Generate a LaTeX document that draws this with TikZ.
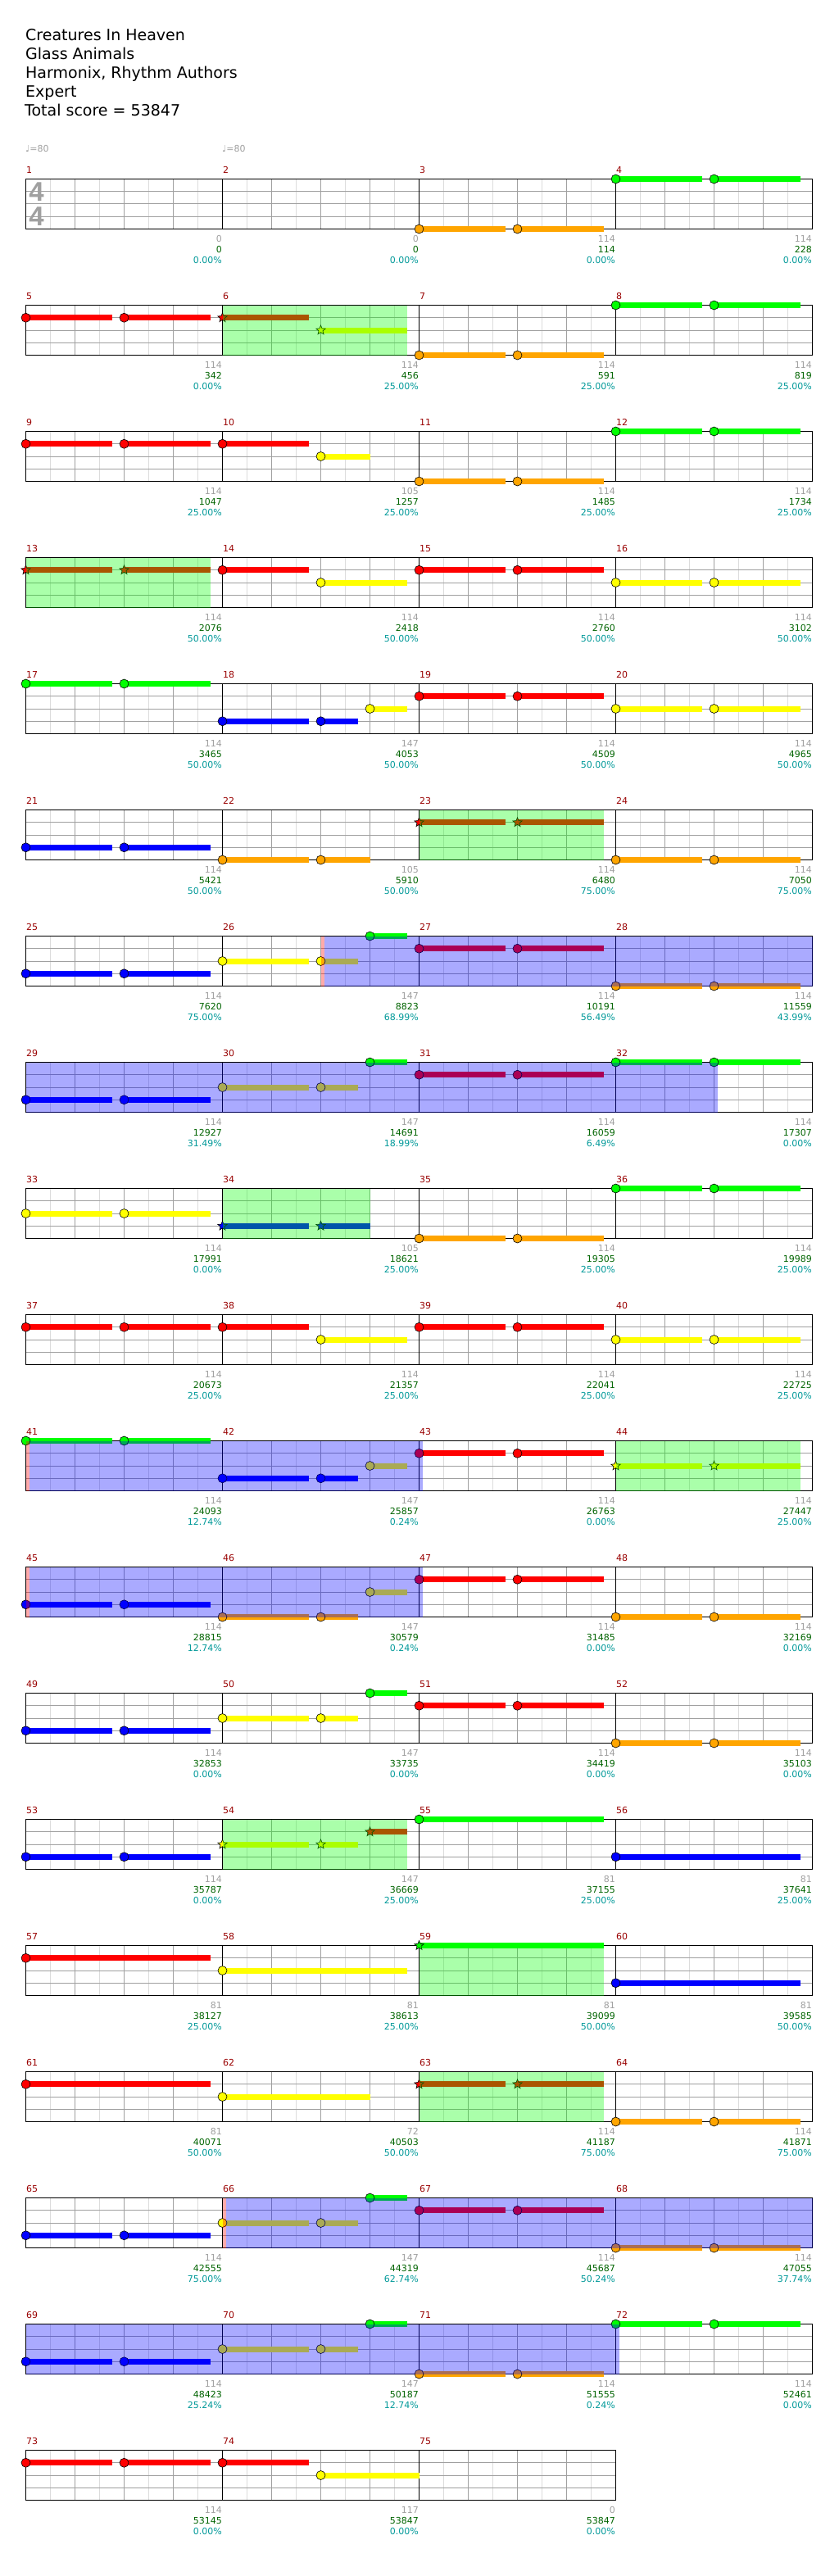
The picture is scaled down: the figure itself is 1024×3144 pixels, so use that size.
\documentclass[tikz,border=0pt]{standalone}
\usepackage{fontspec}
\setmainfont{DejaVu Sans}
\newfontfamily\sigfont{Liberation Sans}
\usetikzlibrary{shapes.geometric}

% lane colours (green, red, yellow, blue, orange)
\definecolor{lane0}{HTML}{00FF00}
\definecolor{lane1}{HTML}{FF0000}
\definecolor{lane2}{HTML}{FFFF00}
\definecolor{lane3}{HTML}{0000FF}
\definecolor{lane4}{HTML}{FFA500}
\definecolor{gridlight}{HTML}{DCDCDC}
\definecolor{gridmid}{HTML}{A0A0A0}
\definecolor{barnum}{HTML}{990000}
\definecolor{runscore}{HTML}{006400}
\definecolor{sppct}{HTML}{009999}

\begin{document}
\begin{tikzpicture}[x=1pt, y=-1pt,
    title/.style={anchor=base west, inner sep=0pt, font=\fontsize{19}{23}\selectfont},
    tempo/.style={anchor=base west, inner sep=0pt, text=gridmid, font=\fontsize{11}{11}\selectfont},
    barlabel/.style={anchor=west, inner sep=0pt, text=barnum, font=\fontsize{11}{11}\selectfont},
    scorelabel/.style={anchor=east, inner sep=0pt, font=\fontsize{11}{11}\selectfont},
    gem/.style={circle, draw=black, line width=0.6pt, minimum size=11pt, inner sep=0pt},
    spgem/.style={star, star points=5, star point ratio=2.3, draw=black, line width=0.6pt, minimum size=12pt, inner sep=0pt}]

\useasboundingbox (0,0) rectangle (1024,3144);
\fill[white] (0,0) rectangle (1024,3144);

% Parameters (pixels, lines on pixel centres)
\def\bx{31.5}   % left edge of staves
\def\by{218.5}  % top of first staff
\def\mw{240}    % measure width
\def\rh{154}    % row pitch
\def\ls{15.25}  % lane spacing

% Header
\node[title] (song) at (31,50) {Creatures In Heaven};
\node[title] (artist) at (31,73) {Glass Animals};
\node[title] (charter) at (31,96) {Harmonix, Rhythm Authors};
\node[title] (difficulty) at (31,119) {Expert};
\node[title] (total) at (30,142) {Total score = 53847};

% Tempo marks
\node[tempo] (tempo1) at (31,186) {♩=80};
\node[tempo] (tempo2) at (271,186) {♩=80};

% Staves
\foreach \m in {1,...,75}
{
    \pgfmathsetmacro\xa{\bx+\mw*mod(\m-1,4)}
    \pgfmathsetmacro\ya{\by+\rh*floor((\m-1)/4)}
    \foreach \j in {1,3,5,7}
        \draw[gridlight, line width=1pt] (\xa+30*\j,\ya) -- (\xa+30*\j,\ya+4*\ls);
    \foreach \j in {1,2,3}
        \draw[gridmid, line width=1pt] (\xa,\ya+\ls*\j) -- (\xa+\mw,\ya+\ls*\j);
    \foreach \j in {1,2,3}
        \draw[gridmid, line width=1pt] (\xa+60*\j,\ya) -- (\xa+60*\j,\ya+4*\ls);
    \draw[black, line width=1pt] (\xa,\ya) rectangle (\xa+\mw,\ya+4*\ls);
    \node[barlabel] (bar\m) at (\xa+0.5,\ya-11) {\m};
}

% Time signature
\node[inner sep=0pt, text=gridmid, font=\sigfont\bfseries\fontsize{33}{33}\selectfont] (sigtop) at (44.5,234) {4};
\node[inner sep=0pt, text=gridmid, font=\sigfont\bfseries\fontsize{33}{33}\selectfont] (sigbot) at (44.5,264) {4};

% Notes: measure/lane/start/end/kind (n = note, s = star)
\foreach \m/\l/\s/\e/\k in {
    3/4/0/1.75/n, 3/4/2/3.75/n, 4/0/0/1.75/n, 4/0/2/3.75/n,
    5/1/0/1.75/n, 5/1/2/3.75/n, 6/1/0/1.75/s, 6/2/2/3.75/s,
    7/4/0/1.75/n, 7/4/2/3.75/n, 8/0/0/1.75/n, 8/0/2/3.75/n,
    9/1/0/1.75/n, 9/1/2/3.75/n, 10/1/0/1.75/n, 10/2/2/3/n,
    11/4/0/1.75/n, 11/4/2/3.75/n, 12/0/0/1.75/n, 12/0/2/3.75/n,
    13/1/0/1.75/s, 13/1/2/3.75/s, 14/1/0/1.75/n, 14/2/2/3.75/n,
    15/1/0/1.75/n, 15/1/2/3.75/n, 16/2/0/1.75/n, 16/2/2/3.75/n,
    17/0/0/1.75/n, 17/0/2/3.75/n, 18/3/0/1.75/n, 18/3/2/2.75/n, 18/2/3/3.75/n,
    19/1/0/1.75/n, 19/1/2/3.75/n, 20/2/0/1.75/n, 20/2/2/3.75/n,
    21/3/0/1.75/n, 21/3/2/3.75/n, 22/4/0/1.75/n, 22/4/2/3/n,
    23/1/0/1.75/s, 23/1/2/3.75/s, 24/4/0/1.75/n, 24/4/2/3.75/n,
    25/3/0/1.75/n, 25/3/2/3.75/n, 26/2/0/1.75/n, 26/2/2/2.75/n, 26/0/3/3.75/n,
    27/1/0/1.75/n, 27/1/2/3.75/n, 28/4/0/1.75/n, 28/4/2/3.75/n,
    29/3/0/1.75/n, 29/3/2/3.75/n, 30/2/0/1.75/n, 30/2/2/2.75/n, 30/0/3/3.75/n,
    31/1/0/1.75/n, 31/1/2/3.75/n, 32/0/0/1.75/n, 32/0/2/3.75/n,
    33/2/0/1.75/n, 33/2/2/3.75/n, 34/3/0/1.75/s, 34/3/2/3/s,
    35/4/0/1.75/n, 35/4/2/3.75/n, 36/0/0/1.75/n, 36/0/2/3.75/n,
    37/1/0/1.75/n, 37/1/2/3.75/n, 38/1/0/1.75/n, 38/2/2/3.75/n,
    39/1/0/1.75/n, 39/1/2/3.75/n, 40/2/0/1.75/n, 40/2/2/3.75/n,
    41/0/0/1.75/n, 41/0/2/3.75/n, 42/3/0/1.75/n, 42/3/2/2.75/n, 42/2/3/3.75/n,
    43/1/0/1.75/n, 43/1/2/3.75/n, 44/2/0/1.75/s, 44/2/2/3.75/s,
    45/3/0/1.75/n, 45/3/2/3.75/n, 46/4/0/1.75/n, 46/4/2/2.75/n, 46/2/3/3.75/n,
    47/1/0/1.75/n, 47/1/2/3.75/n, 48/4/0/1.75/n, 48/4/2/3.75/n,
    49/3/0/1.75/n, 49/3/2/3.75/n, 50/2/0/1.75/n, 50/2/2/2.75/n, 50/0/3/3.75/n,
    51/1/0/1.75/n, 51/1/2/3.75/n, 52/4/0/1.75/n, 52/4/2/3.75/n,
    53/3/0/1.75/n, 53/3/2/3.75/n, 54/2/0/1.75/s, 54/2/2/2.75/s, 54/1/3/3.75/s,
    55/0/0/3.75/n, 56/3/0/3.75/n, 57/1/0/3.75/n, 58/2/0/3.75/n,
    59/0/0/3.75/s, 60/3/0/3.75/n, 61/1/0/3.75/n, 62/2/0/3/n,
    63/1/0/1.75/s, 63/1/2/3.75/s, 64/4/0/1.75/n, 64/4/2/3.75/n,
    65/3/0/1.75/n, 65/3/2/3.75/n, 66/2/0/1.75/n, 66/2/2/2.75/n, 66/0/3/3.75/n,
    67/1/0/1.75/n, 67/1/2/3.75/n, 68/4/0/1.75/n, 68/4/2/3.75/n,
    69/3/0/1.75/n, 69/3/2/3.75/n, 70/2/0/1.75/n, 70/2/2/2.75/n, 70/0/3/3.75/n,
    71/4/0/1.75/n, 71/4/2/3.75/n, 72/0/0/1.75/n, 72/0/2/3.75/n,
    73/1/0/1.75/n, 73/1/2/3.75/n, 74/1/0/1.75/n, 74/2/2/4/n}
{
    \pgfmathsetmacro\xa{\bx+\mw*mod(\m-1,4)+60*\s}
    \pgfmathsetmacro\xe{\bx+\mw*mod(\m-1,4)+60*\e}
    \pgfmathsetmacro\ya{\by+\rh*floor((\m-1)/4)+\ls*\l}
    \fill[lane\l] (\xa,\ya-3.5) rectangle (\xe,\ya+3.5);
    \if\k s
        \node[spgem, fill=lane\l] (note-\m-\l-\s) at (\xa,\ya) {};
    \else
        \node[gem, fill=lane\l] (note-\m-\l-\s) at (\xa,\ya) {};
    \fi
}

% Star power phrases: row/first beat/last beat
\foreach \r/\ba/\bb in {1/4/7.75, 3/0/3.75, 5/8/11.75, 8/4/7, 10/12/15.75, 13/4/7.75, 14/8/11.75, 15/8/11.75}
    \fill[lane0, opacity=0.333] (\bx+60*\ba,\by+\rh*\r) rectangle (\bx+60*\bb,\by+\rh*\r+4*\ls);

% Activation points
\foreach \r/\ba in {6/6, 10/0, 11/0, 16/4}
    \fill[lane1, opacity=0.333] (\bx+60*\ba,\by+\rh*\r) rectangle (\bx+60*\ba+4,\by+\rh*\r+4*\ls);

% Activations
\foreach \r/\ba/\bb in {6/6.07/16, 7/0/14.07, 10/0.07/8.07, 11/0.07/8.07, 16/4.07/16, 17/0/12.07}
    \fill[lane3, opacity=0.333] (\bx+60*\ba,\by+\rh*\r) rectangle (\bx+60*\bb,\by+\rh*\r+4*\ls);

% Scores: measure/base/running/star power
\foreach \m/\b/\t/\p in {
    1/0/0/0.00, 2/0/0/0.00, 3/114/114/0.00, 4/114/228/0.00,
    5/114/342/0.00, 6/114/456/25.00, 7/114/591/25.00, 8/114/819/25.00,
    9/114/1047/25.00, 10/105/1257/25.00, 11/114/1485/25.00, 12/114/1734/25.00,
    13/114/2076/50.00, 14/114/2418/50.00, 15/114/2760/50.00, 16/114/3102/50.00,
    17/114/3465/50.00, 18/147/4053/50.00, 19/114/4509/50.00, 20/114/4965/50.00,
    21/114/5421/50.00, 22/105/5910/50.00, 23/114/6480/75.00, 24/114/7050/75.00,
    25/114/7620/75.00, 26/147/8823/68.99, 27/114/10191/56.49, 28/114/11559/43.99,
    29/114/12927/31.49, 30/147/14691/18.99, 31/114/16059/6.49, 32/114/17307/0.00,
    33/114/17991/0.00, 34/105/18621/25.00, 35/114/19305/25.00, 36/114/19989/25.00,
    37/114/20673/25.00, 38/114/21357/25.00, 39/114/22041/25.00, 40/114/22725/25.00,
    41/114/24093/12.74, 42/147/25857/0.24, 43/114/26763/0.00, 44/114/27447/25.00,
    45/114/28815/12.74, 46/147/30579/0.24, 47/114/31485/0.00, 48/114/32169/0.00,
    49/114/32853/0.00, 50/147/33735/0.00, 51/114/34419/0.00, 52/114/35103/0.00,
    53/114/35787/0.00, 54/147/36669/25.00, 55/81/37155/25.00, 56/81/37641/25.00,
    57/81/38127/25.00, 58/81/38613/25.00, 59/81/39099/50.00, 60/81/39585/50.00,
    61/81/40071/50.00, 62/72/40503/50.00, 63/114/41187/75.00, 64/114/41871/75.00,
    65/114/42555/75.00, 66/147/44319/62.74, 67/114/45687/50.24, 68/114/47055/37.74,
    69/114/48423/25.24, 70/147/50187/12.74, 71/114/51555/0.24, 72/114/52461/0.00,
    73/114/53145/0.00, 74/117/53847/0.00, 75/0/53847/0.00}
{
    \pgfmathsetmacro\xe{\bx+\mw*(mod(\m-1,4)+1)-0.5}
    \pgfmathsetmacro\ya{\by+\rh*floor((\m-1)/4)}
    \node[scorelabel, text=gridmid] (base\m) at (\xe,\ya+73) {\b};
    \node[scorelabel, text=runscore] (run\m) at (\xe,\ya+86) {\t};
    \node[scorelabel, text=sppct] (sp\m) at (\xe,\ya+99) {\p\%};
}

\end{tikzpicture}
\end{document}
